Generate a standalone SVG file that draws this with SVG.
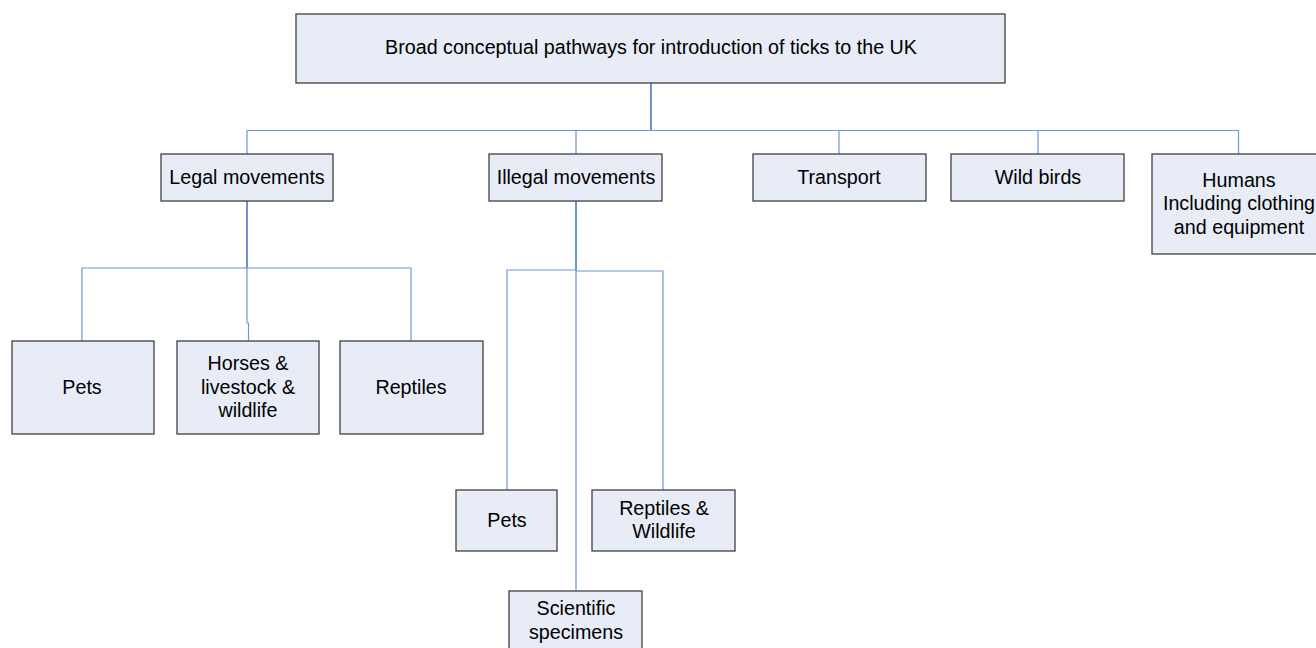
<svg xmlns="http://www.w3.org/2000/svg" width="1316" height="648" viewBox="0 0 1316 648">
<style>
.box{fill:#e7ecf7;stroke:#404040;stroke-width:1.3}
.t{font-family:"Liberation Sans",Arial,sans-serif;font-size:19.7px;fill:#000;text-anchor:middle;dominant-baseline:central}
.c{fill:none;stroke:#6f98d8;stroke-width:1.2}
.c2{fill:none;stroke:#4a78c4;stroke-width:1.6}
</style>
<rect width="1316" height="648" fill="#fff"/>
<g id="connectors">
<path class="c2" d="M651 83V130"/>
<path class="c" d="M247 130.5H1238.5"/>
<path class="c" d="M247 130V154M576 130V154M839 130V154M1038 130V154M1238.5 130V154"/>
<path class="c2" d="M247 201V268"/>
<path class="c" d="M82 341V268H411V341M247 268V323H248.5V341"/>
<path class="c2" d="M576 201V270"/>
<path class="c" d="M507 490V270H576M576 271H663V490M576 270V591"/>
</g>
<g id="root"><rect class="box" x="296" y="14" width="709" height="69"/><text class="t" x="651" y="47">Broad conceptual pathways for introduction of ticks to the UK</text></g>
<g id="legal"><rect class="box" x="161" y="154" width="172" height="47"/><text class="t" x="247" y="176.5">Legal movements</text></g>
<g id="illegal"><rect class="box" x="489" y="154" width="173" height="47"/><text class="t" x="576" y="176.5">Illegal movements</text></g>
<g id="transport"><rect class="box" x="753" y="154" width="173" height="47"/><text class="t" x="839" y="176.5">Transport</text></g>
<g id="wildbirds"><rect class="box" x="951" y="154" width="173" height="47"/><text class="t" x="1038" y="176.5">Wild birds</text></g>
<g id="humans"><rect class="box" x="1152" y="154" width="172" height="100"/><text class="t" x="1239" y="179.5">Humans</text><text class="t" x="1239" y="203">Including clothing</text><text class="t" x="1239" y="226.5">and equipment</text></g>
<g id="legal-pets"><rect class="box" x="12" y="341" width="142" height="93"/><text class="t" x="82" y="386.5">Pets</text></g>
<g id="horses"><rect class="box" x="177" y="341" width="142" height="93"/><text class="t" x="248" y="362.5">Horses &amp;</text><text class="t" x="248" y="386.5">livestock &amp;</text><text class="t" x="248" y="409.5">wildlife</text></g>
<g id="legal-reptiles"><rect class="box" x="340" y="341" width="143" height="93"/><text class="t" x="411" y="386.5">Reptiles</text></g>
<g id="illegal-pets"><rect class="box" x="456" y="490" width="101" height="61"/><text class="t" x="507" y="519.5">Pets</text></g>
<g id="illegal-reptiles"><rect class="box" x="592" y="490" width="143" height="61"/><text class="t" x="664" y="507.5">Reptiles &amp;</text><text class="t" x="664" y="530.5">Wildlife</text></g>
<g id="scientific"><rect class="box" x="509" y="591" width="133" height="70"/><text class="t" x="576" y="607.5">Scientific</text><text class="t" x="576" y="631.5">specimens</text></g>
</svg>
